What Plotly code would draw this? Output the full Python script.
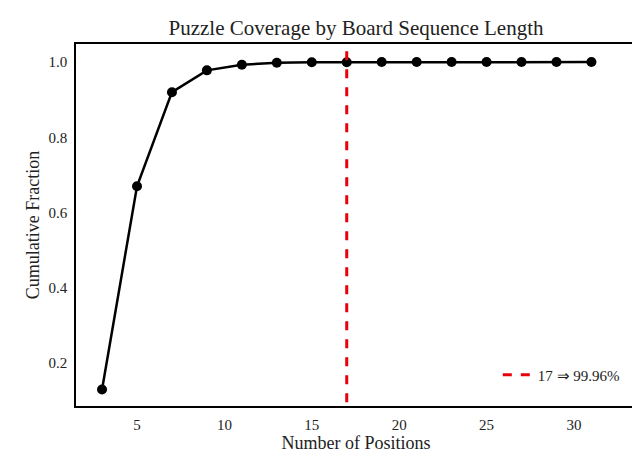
import plotly.graph_objects as go

positions = [3, 5, 7, 9, 11, 13, 15, 17, 19, 21, 23, 25, 27, 29, 31]
cum_fraction = [0.13, 0.67, 0.92, 0.978, 0.993, 0.998, 0.9993, 0.9996, 1.0, 1.0, 1.0, 1.0, 1.0, 1.0, 1.0]
cutoff = 17
cutoff_label = "17 ⇒ 99.96%"

fig = go.Figure()
fig.add_trace(go.Scatter(x=positions, y=cum_fraction, mode="lines+markers",
                         line=dict(color="black", width=2.5),
                         marker=dict(color="black", size=10), showlegend=False))
fig.add_trace(go.Scatter(x=[cutoff, cutoff], y=[0, 1.1], mode="lines",
                         line=dict(color="#e8000b", width=3, dash="dash"),
                         name=cutoff_label))

fig.update_layout(
    width=640, height=462,
    margin=dict(l=68, r=12, t=36, b=64),
    paper_bgcolor="white", plot_bgcolor="white",
    font=dict(family="Liberation Serif", color="#222", size=15),
    title=dict(text="Puzzle Coverage by Board Sequence Length", x=0.5, xanchor="center",
               xref="paper", y=1 - 20 / 462, yanchor="middle", font=dict(size=21)),
    legend=dict(x=0.98, y=0.04, xanchor="right", yanchor="bottom",
                bgcolor="rgba(0,0,0,0)", font=dict(size=15)),
)
fig.update_xaxes(range=[1.51, 33.55], tickvals=[5, 10, 15, 20, 25, 30], automargin=False,
                 title=dict(text="Number of Positions", font=dict(size=18), standoff=4),
                 showgrid=False, zeroline=False, showline=True, linecolor="black",
                 linewidth=1.5, mirror=True, ticks="outside", ticklen=4, tickcolor="white")
fig.update_yaxes(range=[0.086, 1.048], tickvals=[0.2, 0.4, 0.6, 0.8, 1.0], tickformat=".1f",
                 automargin=False,
                 title=dict(text="Cumulative Fraction", font=dict(size=18), standoff=4),
                 showgrid=False, zeroline=False, showline=True, linecolor="black",
                 linewidth=1.5, mirror=True, ticks="outside", ticklen=4, tickcolor="white")

fig.write_html("out.html")
